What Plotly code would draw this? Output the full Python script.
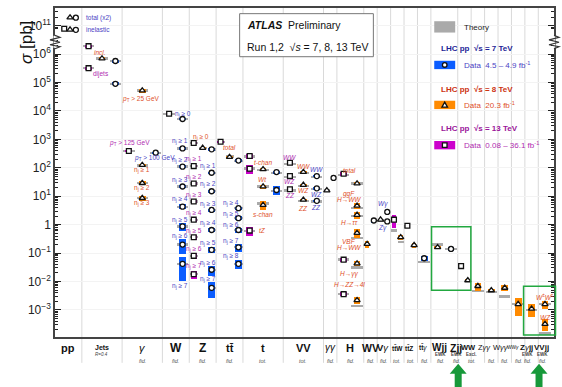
import math
import plotly.graph_objects as go

FONT = "Liberation Sans, Arial, sans-serif"
TT = "tt\u0304"

# ---------------- categories along the x axis ----------------
categories = ["pp", "Jets", "γ", "W", "Z", TT, "t", "VV", "γγ", "H", "WV", "Vγ",
              TT + "W", TT + "Z", TT + "γ", "Wjj", "Zjj", "WW", "Zγγ", "Wγγ", "WWγ",
              "Zγjj", "VVjj"]
cat_slots = [2, 3, 3, 2, 2, 2, 3, 3, 1, 2, 1, 1, 1, 1, 1, 2, 1, 1, 1, 1, 1, 1, 1]
cat_note = ["", "R=0.4", "", "", "", "", "", "", "", "", "", "", "", "", "",
            "EWK", "EWK", "Excl.", "", "", "", "EWK", "EWK"]
cat_kind = ["", "", "fid.", "fid.", "fid.", "fid.", "tot.", "tot.", "fid.", "fid.",
            "fid.", "fid.", "tot.", "tot.", "fid.", "fid.", "fid.", "tot.", "fid.",
            "fid.", "fid.", "fid.", "fid."]

# ---------------- measurements (pb) ----------------
# sqrt(s) = 7 TeV
cat_7 = ["pp", "pp", "Jets", "Jets", "γ",
         "W", "W", "W", "W", "W", "W", "W", "W",
         "Z", "Z", "Z", "Z", "Z", "Z", "Z", "Z",
         TT, TT, TT, TT, TT, TT,
         "t", "t", "VV", "VV", "VV", "γγ", "WV", "Vγ", "Vγ", TT + "γ", "Wjj"]
xsec_7 = [1.9e11, 7.1e10, 5.7e5, 9.0e4, 340,
          5.2e3, 480, 110, 22, 4.3, 0.87, 0.20, 0.042,
          445, 67, 15, 3.3, 0.65, 0.13, 0.026, 0.006,
          180, 3.8, 1.7, 0.65, 0.16, 0.042,
          71, 16.6, 51, 19, 6.9, 44, 1.4, 2.8, 1.3, 0.066, 0.14]
unc_7 = [0, 0, 0.12, 0.12, 0.1,
         0.1, 0.1, 0.1, 0.12, 0.2, 0.3, 0.55, 0.75,
         0.1, 0.1, 0.1, 0.12, 0.15, 0.25, 0.4, 0.55,
         0.1, 0.12, 0.15, 0.2, 0.3, 0.35,
         0.12, 0.35, 0.1, 0.1, 0.1, 0, 0.15, 0, 0, 0.2, 0.15]
theory_7 = [None, None, 5.7e5, 9.0e4, 340,
            5.2e3, 480, 110, 22, 4.3, 0.87, 0.20, 0.042,
            445, 67, 15, 3.3, 0.65, 0.13, 0.026, 0.006,
            175, 3.8, 1.7, 0.65, 0.16, 0.042,
            65, 15.6, 47, 18, 6.5, None, 1.4, None, None, 0.048, 0.14]

# sqrt(s) = 8 TeV
cat_8 = ["pp", "pp", "Jets", "γ", "γ", "γ", "γ", "Z", TT, "t", "t", "t",
         "VV", "VV", "VV", "γγ", "H", "H", "H", "H", "H", "H", "WV", "Vγ",
         TT + "W", TT + "Z", "Wjj", "Zjj", "WW", "Zγγ", "Wγγ", "WWγ", "Zγjj",
         "VVjj", "VVjj"]
xsec_8 = [1.92e11, 7.2e10, 7.0e5, 5.2e4, 126, 29, 8.6, 500, 240, 89, 22, 4.9,
          71, 25, 7.5, 16, 28, 4.6, 2.2, 0.51, 0.043, 0.0022, 0.21, 1.5,
          0.36, 0.19, 0.16, 0.011, 0.0069, 0.0049, 0.006, 0.0016, 0.0011,
          0.0016, 0.00032]
unc_8 = [0, 0, 0.12, 0.15, 0.1, 0.15, 0.18, 0.1, 0.1, 0.12, 0.15, 0.35,
         0.1, 0.1, 0.1, 0, 0.12, 0.25, 0.3, 0.35, 0.2, 0.25, 0.25, 0,
         0.2, 0.2, 0.12, 0.1, 0.3, 0.15, 0.22, 0.6, 0.5, 0.3, 0.45]
theory_8 = [None, None, 7.0e5, 5.2e4, 120, 29, 8.6, 500, 250, 85, 22, 5.5,
            65, 23, 7.0, 16, 28, 3.8, 2.0, 0.34, 0.031, 0.00135, 0.21, 1.4,
            0.24, 0.19, 0.2, 0.011, 0.0047, 0.0042, 0.003, 0.0016, 0.001,
            0.0016, 0.00015]

# sqrt(s) = 13 TeV
cat_13 = ["pp", "Jets", "Jets", "γ", "W",
          "Z", "Z", "Z", "Z", "Z", "Z", "Z", "Z",
          TT, "t", "t", "t", "VV", "VV", "VV", "H", "H", "H",
          TT + "W", TT + "Z", "Zjj"]
xsec_13 = [7.8e10, 1.9e6, 3.2e5, 390, 8.0e3,
           750, 115, 28, 6.5, 1.5, 0.36, 0.08, 0.018,
           820, 260, 93, 0.62, 150, 51, 17.7, 62, 0.059, 0.0036,
           1.5, 0.92, 0.035]
unc_13 = [0, 0.12, 0.12, 0.1, 0.1,
          0.1, 0.1, 0.1, 0.12, 0.15, 0.2, 0.25, 0.3,
          0.1, 0.2, 0.35, 0.35, 0.12, 0.1, 0.12, 0.15, 0.15, 0.15,
          0.48, 0.2, 0.2]
theory_13 = [None, 1.9e6, 3.2e5, 400, 8.0e3,
             750, 115, 28, 6.5, 1.5, 0.36, 0.08, 0.018,
             830, 250, 95, 0.6, 140, 48, 16, 56, 0.06, 0.0036,
             0.62, 0.86, 0.04]

# process labels: (text, x in category slots, cross-section level, energy, anchor)
NJ = "n<sub>j</sub> ≥ "
labels = [
    ("total (x2)", 2.18, 1.9e11, "7", "left"), ("inelastic", 2.18, 7.1e10, "7", "left"),
    ("<i>incl.</i>", 3.35, 1.12e6, "8", "center"), ("dijets", 3.42, 1.95e5, "13", "center"),
    ("<i>p</i><sub>T</sub> > 25 GeV", 6.37, 2.6e4, "8", "center"),
    ("<i>p</i><sub>T</sub> > 125 GeV", 5.54, 755, "13", "center"),
    ("<i>p</i><sub>T</sub> > 100 GeV", 7.43, 215, "7", "center"),
    (NJ + "1", 6.45, 82, "8", "center"), (NJ + "2", 6.45, 19.2, "8", "center"),
    (NJ + "3", 6.45, 5.6, "8", "center"),
    (NJ + "0", 9.52, 7.9e3, "7", "center"),
    (NJ + "1", 9.3, 865, "7", "center"), (NJ + "2", 9.3, 183, "7", "center"),
    (NJ + "3", 9.3, 36.6, "7", "center"), (NJ + "4", 9.3, 7.9, "7", "center"),
    (NJ + "5", 9.3, 1.5, "7", "center"), (NJ + "6", 9.3, 0.39, "7", "center"),
    (NJ + "7", 9.3, 0.007, "7", "center"),
    (NJ + "0", 10.91, 1190, "8", "center"),
    (NJ + "1", 10.33, 198, "13", "center"), (NJ + "2", 10.33, 47.7, "13", "center"),
    (NJ + "3", 10.33, 10.9, "13", "center"), (NJ + "4", 10.33, 2.57, "13", "center"),
    (NJ + "5", 10.33, 0.62, "13", "center"), (NJ + "6", 10.33, 0.141, "13", "center"),
    (NJ + "7", 10.33, 0.035, "13", "center"),
    (NJ + "1", 11.38, 116, "7", "center"), (NJ + "2", 11.38, 26.5, "7", "center"),
    (NJ + "3", 11.38, 5.3, "7", "center"), (NJ + "4", 11.38, 1.11, "7", "center"),
    (NJ + "5", 11.38, 0.222, "7", "center"), (NJ + "6", 11.38, 0.046, "7", "center"),
    (NJ + "7", 11.38, 0.0119, "7", "center"),
    ("<i>total</i>", 13.01, 505, "8", "center"),
    (NJ + "4", 13.09, 6.0, "7", "center"), (NJ + "5", 13.09, 2.37, "7", "center"),
    (NJ + "6", 13.09, 1.0, "7", "center"), (NJ + "7", 13.09, 0.276, "7", "center"),
    (NJ + "8", 13.09, 0.078, "7", "center"),
    ("<i>t-chan</i>", 15.46, 160, "8", "center"), ("<i>Wt</i>", 15.46, 37.4, "8", "center"),
    ("<i>s-chan</i>", 15.46, 2.24, "8", "center"), ("<i>tZ</i>", 15.49, 0.617, "8", "center"),
    ("<i>WW</i>", 17.47, 239, "13", "center"), ("<i>WZ</i>", 17.47, 31.9, "13", "center"),
    ("<i>ZZ</i>", 17.47, 10.3, "13", "center"),
    ("<i>WW</i>", 18.51, 107, "8", "center"), ("<i>WZ</i>", 18.51, 15.4, "8", "center"),
    ("<i>ZZ</i>", 18.51, 3.63, "8", "center"),
    ("<i>WW</i>", 19.46, 83.8, "7", "center"), ("<i>WZ</i>", 19.46, 11.2, "7", "center"),
    ("<i>ZZ</i>", 19.46, 3.93, "7", "center"),
    ("<i>total</i>", 21.96, 81.8, "8", "center"), ("<i>ggF</i>", 21.93, 12.4, "8", "center"),
    ("<i>H→WW</i>", 21.93, 7.48, "8", "center"), ("<i>H→ττ</i>", 21.93, 1.15, "8", "center"),
    ("<i>VBF</i>", 21.93, 0.261, "8", "center"), ("<i>H→WW</i>", 21.93, 0.153, "8", "center"),
    ("<i>H→γγ</i>", 21.93, 0.0189, "8", "center"),
    ("<i>H→ZZ→4l</i>", 21.93, 0.0078, "8", "center"),
    ("<i>Wγ</i>", 24.41, 5.3, "7", "center"), ("<i>Zγ</i>", 24.41, 0.767, "7", "center"),
    ("<i>W<sup>±</sup>W<sup>±</sup></i>", 36.5, 0.0028, "8", "center"),
    ("<i>WZ</i>", 36.5, 5.6e-4, "8", "center"),
]

# ---------------- styles ----------------
box_color = {"7": "#0a5cff", "8": "#ff8a00", "13": "#cc00cc"}
text_color = {"7": "#4a44c4", "8": "#e0502a", "13": "#b02cb0"}
symbol = {"7": "circle", "8": "triangle-up", "13": "square"}
marker_size = {"7": 5, "8": 5.5, "13": 4.8}
THEORY = "#aaaaaa"
# how far the energy columns spread from the category centre (1 = evenly filled)
cat_spread = {"pp": 0.65}
cat_shift = {"pp": 0.12}

# ---------------- geometry helpers ----------------
BREAK_SHIFT = 4.0  # decades removed between 10^6 and 10^11


def ypos(v):
    lv = math.log10(v)
    return lv - BREAK_SHIFT if lv > 8 else lv


starts = {}
acc = 0
for c, w in zip(categories, cat_slots):
    starts[c] = acc
    acc += w
X_MAX = acc + 0.17
slots = dict(zip(categories, cat_slots))

series = {
    "13": (cat_13, xsec_13, unc_13, theory_13),
    "8": (cat_8, xsec_8, unc_8, theory_8),
    "7": (cat_7, xsec_7, unc_7, theory_7),
}
order = ["13", "8", "7"]


def slot_x(cat, energy):
    present = [e for e in order if cat in series[e][0]]
    n = len(present)
    k = present.index(energy)
    centre = starts[cat] + slots[cat] / 2
    x = starts[cat] + slots[cat] * (k + 0.5) / n
    x = centre + (x - centre) * cat_spread.get(cat, 1.0) + cat_shift.get(cat, 0.0)
    return x, slots[cat] / n


fig = go.Figure()

# theory bands
for e in order:
    cats, vals, uncs, thys = series[e]
    xs, bases, ws = [], [], []
    for c, t in zip(cats, thys):
        if t is None:
            continue
        x, sw = slot_x(c, e)
        xs.append(x)
        bases.append(ypos(t) - 0.04)
        ws.append(min(0.85, 0.9 * sw))
    fig.add_trace(go.Bar(x=xs, y=[0.08] * len(xs), base=bases, width=ws,
                         marker=dict(color=THEORY, line=dict(width=0)),
                         showlegend=False, hoverinfo="skip"))

# data uncertainty boxes
for e in order:
    cats, vals, uncs, thys = series[e]
    xs, bases, hs, ws = [], [], [], []
    for c, v, u in zip(cats, vals, uncs):
        if u <= 0:
            continue
        x, sw = slot_x(c, e)
        lo, hi = ypos(v * (1 - u)), ypos(v * (1 + u))
        xs.append(x)
        bases.append(lo)
        hs.append(hi - lo)
        ws.append(min(0.5, 0.7 * sw))
    fig.add_trace(go.Bar(x=xs, y=hs, base=bases, width=ws,
                         marker=dict(color=box_color[e], line=dict(width=0)),
                         showlegend=False, hoverinfo="skip"))

# data markers
for e in order:
    cats, vals, uncs, thys = series[e]
    xs = [slot_x(c, e)[0] for c in cats]
    ys = [ypos(v) for v in vals]
    fig.add_trace(go.Scatter(x=xs, y=ys, mode="markers",
                             marker=dict(symbol=symbol[e], size=marker_size[e],
                                         color="white",
                                         line=dict(color="#111111", width=1.3)),
                             showlegend=False, hoverinfo="skip"))

annotations = []
shapes = []

# process labels
for text, x, v, e, anc in labels:
    annotations.append(dict(x=x, y=ypos(v), xref="x", yref="y", text=text,
                            showarrow=False, xanchor=anc, yanchor="middle",
                            font=dict(family=FONT, size=6.5, color=text_color[e])))


def pxx(x):
    return (x - 55) / 500


def pxy(y):
    return (337 - y) / 331


# category separators (extend into the label band)
for c in categories[1:]:
    shapes.append(dict(type="line", xref="x", yref="paper", x0=starts[c], x1=starts[c],
                       y0=pxy(363), y1=1, line=dict(color="#d9d9d9", width=1), layer="below"))

# category labels
cat_display = ["<b>pp</b>", "<b>Jets</b>", "<i>γ</i>", "<b>W</b>", "<b>Z</b>", "<b>" + TT + "</b>",
               "<b>t</b>", "<b>VV</b>", "<i>γγ</i>", "<b>H</b>", "<b>WV</b>", "<b>V</b><i>γ</i>",
               "<b>" + TT + "W</b>", "<b>" + TT + "Z</b>", "<b>" + TT + "</b><i>γ</i>",
               "<b>Wjj</b>", "<b>Zjj</b>", "<b>WW</b>", "Z<i>γγ</i>", "W<i>γγ</i>",
               "WW<i>γ</i>", "<b>Z</b><i>γ</i><b>jj</b>", "<b>VVjj</b>"]
cat_size = [11, 7, 11, 12, 12, 11, 11, 11, 10, 11, 10.5, 9.5, 6.5, 6.5, 6.5, 10, 10.5, 7.5,
            7.5, 7.5, 4.8, 8, 8]
cat_dx_px = [0, 0, 0, 0, 0, 0, 0, 0, 0, 0, 0, -1, 0, -1.5, -1.5, -5, -8.5, -9, -6.5, -4,
             -5, -5, -3.5]
note_dx_px = [0, 0, 0, 0, 0, 0, 0, 0, 0, 0, 0, 0, 0, 0, 0, -4, -8, -6, 0, 0, 0, -4, -3]
for c, disp, sz, note, kind, dx, ndx in zip(categories, cat_display, cat_size, cat_note,
                                            cat_kind, cat_dx_px, note_dx_px):
    xc = starts[c] + slots[c] / 2
    annotations.append(dict(x=xc + dx / 13.45, y=pxy(348), xref="x", yref="paper", text=disp,
                            showarrow=False, yanchor="middle",
                            font=dict(family=FONT, size=sz, color="#111")))
    if note:
        annotations.append(dict(x=xc + ndx / 13.45, y=pxy(355), xref="x", yref="paper",
                                text=("<i>%s</i>" % note) if note.startswith("R") else "<b>%s</b>" % note,
                                showarrow=False, yanchor="middle",
                                font=dict(family=FONT, size=4.5, color="#444")))
    if kind:
        annotations.append(dict(x=xc + ndx / 13.45, y=pxy(361.5), xref="x", yref="paper",
                                text="<i>%s</i>" % kind, showarrow=False, yanchor="middle",
                                font=dict(family=FONT, size=5.5, color="#555")))

# axis break marks
for xb in (55, 555):
    shapes.append(dict(type="rect", xref="paper", yref="paper", x0=pxx(xb - 1.5),
                       x1=pxx(xb + 1.5), y0=pxy(46), y1=pxy(34),
                       fillcolor="white", line=dict(width=0)))
    pts = [(xb, 33.5), (xb + 5, 35.5), (xb - 5, 38), (xb + 5, 40.5), (xb - 5, 43),
           (xb + 5, 45), (xb, 47)]
    path = "M " + " L ".join("%.4f,%.4f" % (pxx(a), pxy(b)) for a, b in pts)
    shapes.append(dict(type="path", xref="paper", yref="paper", path=path,
                       line=dict(color="#333", width=1.2)))

# ATLAS box
shapes.append(dict(type="rect", xref="paper", yref="paper", x0=pxx(240), x1=pxx(374),
                   y0=pxy(55), y1=pxy(11.7), fillcolor="white",
                   line=dict(color="#777", width=1)))
annotations.append(dict(x=pxx(245.5), y=pxy(23.3), xref="paper", yref="paper",
                        text="<b><i>ATLAS</i></b>  Preliminary", showarrow=False,
                        xanchor="left", yanchor="middle",
                        font=dict(family=FONT, size=10.5, color="#111")))
annotations.append(dict(x=pxx(245.5), y=pxy(45), xref="paper", yref="paper",
                        text="Run 1,2  √<i>s</i> = 7, 8, 13 TeV", showarrow=False,
                        xanchor="left", yanchor="middle",
                        font=dict(family=FONT, size=10.5, color="#111")))

# legend block
shapes.append(dict(type="rect", xref="paper", yref="paper", x0=pxx(435), x1=pxx(456),
                   y0=pxy(30.7), y1=pxy(19.3), fillcolor=THEORY, line=dict(width=0)))
annotations.append(dict(x=pxx(463), y=pxy(25.5), xref="paper", yref="paper", text="Theory",
                        showarrow=False, xanchor="left", yanchor="middle",
                        font=dict(family=FONT, size=8, color="#222")))
legend_rows = [
    ("7", 46.7, 63.3, "#1e1e96", "Data  4.5 – 4.9 fb<sup>-1</sup>"),
    ("8", 88.3, 103.5, "#cc3311", "Data  20.3 fb<sup>-1</sup>"),
    ("13", 127.7, 144.0, "#9a149a", "Data  0.08 – 36.1 fb<sup>-1</sup>"),
]
for e, yh, yd, hcol, dtext in legend_rows:
    annotations.append(dict(x=pxx(440), y=pxy(yh), xref="paper", yref="paper",
                            text="<b>LHC pp  √s = %s TeV</b>" % e, showarrow=False,
                            xanchor="left", yanchor="middle",
                            font=dict(family=FONT, size=8, color=hcol)))
    shapes.append(dict(type="rect", xref="paper", yref="paper", x0=pxx(435), x1=pxx(456),
                       y0=pxy(yd + 4.2), y1=pxy(yd - 4.2), fillcolor=box_color[e],
                       line=dict(width=0)))
    annotations.append(dict(x=pxx(463), y=pxy(yd), xref="paper", yref="paper", text=dtext,
                            showarrow=False, xanchor="left", yanchor="middle",
                            font=dict(family=FONT, size=8, color=text_color[e])))
    cx = 445.5
    if e == "7":
        shapes.append(dict(type="circle", xref="paper", yref="paper", x0=pxx(cx - 2.3),
                           x1=pxx(cx + 2.3), y0=pxy(yd + 2.3), y1=pxy(yd - 2.3),
                           fillcolor="white", line=dict(color="#111", width=1.3)))
    elif e == "8":
        tri = "M %.4f,%.4f L %.4f,%.4f L %.4f,%.4f Z" % (
            pxx(cx - 2.8), pxy(yd + 2.2), pxx(cx + 2.8), pxy(yd + 2.2), pxx(cx), pxy(yd - 2.8))
        shapes.append(dict(type="path", xref="paper", yref="paper", path=tri,
                           fillcolor="white", line=dict(color="#111", width=1.3)))
    else:
        shapes.append(dict(type="rect", xref="paper", yref="paper", x0=pxx(cx - 2.3),
                           x1=pxx(cx + 2.3), y0=pxy(yd + 2.3), y1=pxy(yd - 2.3),
                           fillcolor="white", line=dict(color="#111", width=1.3)))

# highlight boxes around the vector-boson-scattering results
GREEN = "#22a840"
shapes.append(dict(type="rect", xref="paper", yref="paper", x0=pxx(432.3), x1=pxx(471.7),
                   y0=pxy(290), y1=pxy(226), line=dict(color=GREEN, width=1.5)))
shapes.append(dict(type="rect", xref="paper", yref="paper", x0=pxx(524.5), x1=pxx(556.5),
                   y0=pxy(335), y1=pxy(286), line=dict(color=GREEN, width=1.5)))
for cx in (459, 540):
    pts = [(cx - 3.5, 388), (cx - 3.5, 374), (cx - 8.5, 374), (cx, 364), (cx + 8.5, 374),
           (cx + 3.5, 374), (cx + 3.5, 388)]
    path = "M " + " L ".join("%.4f,%.4f" % (pxx(a), pxy(b)) for a, b in pts) + " Z"
    shapes.append(dict(type="path", xref="paper", yref="paper", path=path,
                       fillcolor="#17993a", line=dict(width=0)))

# y-axis title
annotations.append(dict(x=pxx(15), y=pxy(17), xref="paper", yref="paper",
                        text="<i>σ</i> [pb]", textangle=-90, showarrow=False,
                        font=dict(family=FONT, size=17, color="#111")))

major = [-3, -2, -1, 0, 1, 2, 3, 4, 5, 6, 7]
major_text = ["10<sup>−3</sup>", "10<sup>−2</sup>", "10<sup>−1</sup>", "1",
              "10<sup>1</sup>", "10<sup>2</sup>", "10<sup>3</sup>", "10<sup>4</sup>",
              "10<sup>5</sup>", "10<sup>6</sup>", "10<sup>11</sup>"]
minor = [d + math.log10(k) for d in range(-4, 6) for k in range(2, 10)]
minor += [6.30, 6.48, 6.9, 6.95, 7.3, 7.48]

fig.update_layout(
    width=562, height=387,
    margin=dict(l=55, r=7, t=6, b=50),
    paper_bgcolor="white", plot_bgcolor="white",
    barmode="overlay", bargap=0,
    showlegend=False,
    font=dict(family=FONT, color="#111"),
    xaxis=dict(range=[0, X_MAX], showgrid=False, zeroline=False, showticklabels=False,
               ticks="", showline=True, linecolor="#444", linewidth=1.5, mirror=True,
               fixedrange=True),
    yaxis=dict(range=[-3.95, 7.62], tickmode="array", tickvals=major, ticktext=major_text,
               ticks="inside", ticklen=6, tickwidth=1, tickcolor="#222",
               showline=True, linecolor="#444", linewidth=1.5, mirror="ticks",
               showgrid=True, gridcolor="#f3f3f3", zeroline=False,
               tickfont=dict(family=FONT, size=12, color="#222"),
               minor=dict(tickmode="array", tickvals=minor, ticks="inside", ticklen=3,
                          tickcolor="#222", showgrid=False),
               fixedrange=True),
    shapes=shapes,
    annotations=annotations,
)

fig.write_html("out.html")
